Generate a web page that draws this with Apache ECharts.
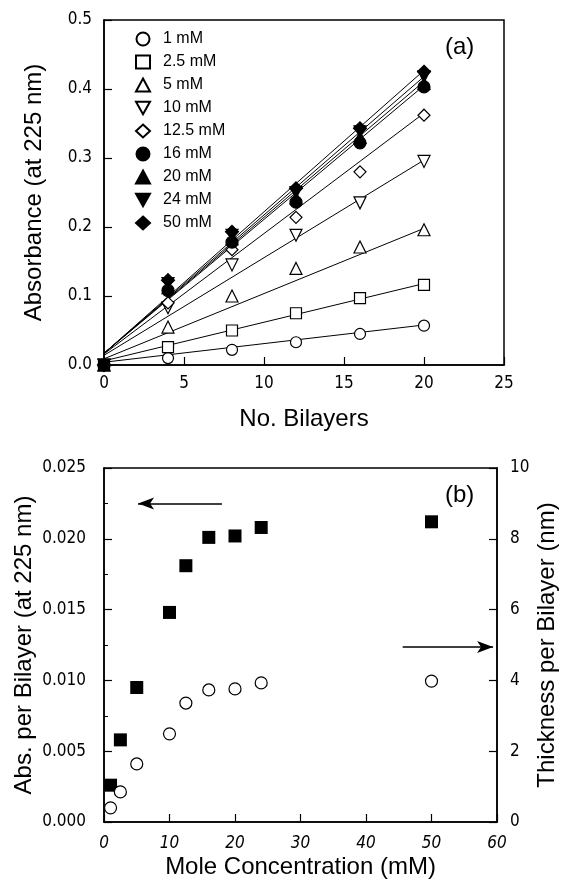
<!DOCTYPE html>
<html>
<head>
<meta charset="utf-8">
<script src="https://cdn.jsdelivr.net/npm/echarts@6/dist/echarts.min.js"></script>
<style>
html,body{margin:0;padding:0;background:#fff}
#main{width:564px;height:886px}
</style>
</head>
<body>
<div id="main"></div>
<script>
// panel (a): absorbance vs number of bilayers
var bilayers = [0, 4, 8, 12, 16, 20];
var concNames = ['1 mM', '2.5 mM', '5 mM', '10 mM', '12.5 mM', '16 mM', '20 mM', '24 mM', '50 mM'];
var abs1 = [0.000, 0.010, 0.022, 0.033, 0.045, 0.057];
var abs2_5 = [0.000, 0.026, 0.050, 0.075, 0.097, 0.116];
var abs5 = [0.000, 0.055, 0.100, 0.140, 0.171, 0.196];
var abs10 = [0.000, 0.083, 0.145, 0.188, 0.235, 0.295];
var abs12_5 = [0.000, 0.090, 0.167, 0.214, 0.280, 0.362];
var abs16 = [0.000, 0.108, 0.178, 0.236, 0.322, 0.403];
var abs20 = [0.000, 0.112, 0.183, 0.242, 0.330, 0.408];
var abs24 = [0.000, 0.118, 0.188, 0.250, 0.338, 0.418];
var abs50 = [0.000, 0.123, 0.193, 0.256, 0.343, 0.425];
// fitted lines: value at 0 and at 20 bilayers
var fitStart = [0.004, 0.006, 0.009, 0.014, 0.016, 0.017, 0.017, 0.017, 0.017];
var fitEnd = [0.058, 0.118, 0.198, 0.297, 0.365, 0.405, 0.411, 0.418, 0.427];

// panel (b): per-bilayer values vs concentration
var moleConc = [1, 2.5, 5, 10, 12.5, 16, 20, 24, 50];
var absPerBilayer = [0.0026, 0.0058, 0.0095, 0.0148, 0.0181, 0.0201, 0.0202, 0.0208, 0.0212];
var thickness = [0.40, 0.85, 1.64, 2.49, 3.36, 3.73, 3.76, 3.93, 3.98];

var allAbs = [abs1, abs2_5, abs5, abs10, abs12_5, abs16, abs20, abs24, abs50];
var downTri = 'path://M0,0 L10,0 L5,9 Z';
var symbols = ['circle', 'rect', 'triangle', downTri, 'diamond', 'circle', 'triangle', downTri, 'diamond'];
var filled = [false, false, false, false, false, true, true, true, true];
var sizes = [11, 11, 12, 12, 12, 12, 12, 12, 13];

var tickFont = {fontFamily: 'Liberation Sans Narrow, DejaVu Sans Condensed', fontSize: 17, color: '#000'};
var titleFont = {fontFamily: 'Liberation Sans', fontSize: 24, color: '#000'};
var axisLine = {show: true, lineStyle: {color: '#000', width: 1.5}};
var axisTick = {show: true, inside: true, length: 8, lineStyle: {color: '#000', width: 1.2}};

var series = [];
for (var i = 0; i < allAbs.length; i++) {
    series.push({
        type: 'line', xAxisIndex: 0, yAxisIndex: 0, silent: true,
        symbol: 'none', z: 2,
        lineStyle: {color: '#000', width: 1},
        data: [[0, fitStart[i]], [20, fitEnd[i]]]
    });
}
for (var i = 0; i < allAbs.length; i++) {
    var pts = [];
    for (var j = 0; j < bilayers.length; j++) pts.push([bilayers[j], allAbs[i][j]]);
    series.push({
        name: concNames[i], type: 'scatter', xAxisIndex: 0, yAxisIndex: 0, z: 3,
        symbol: symbols[i], symbolSize: sizes[i],
        itemStyle: {color: filled[i] ? '#000' : '#fff', borderColor: '#000', borderWidth: 1.2, opacity: 1},
        data: pts
    });
}
var sq = [], circ = [];
for (var k = 0; k < moleConc.length; k++) {
    sq.push([moleConc[k], absPerBilayer[k]]);
    circ.push([moleConc[k], thickness[k]]);
}
series.push({
    type: 'scatter', xAxisIndex: 1, yAxisIndex: 1, symbol: 'rect', symbolSize: 13,
    itemStyle: {color: '#000', opacity: 1}, data: sq,
    markLine: {
        silent: true, symbol: ['none', 'arrow'], symbolSize: [9, 16],
        label: {show: false},
        lineStyle: {color: '#000', width: 1.5, type: 'solid'},
        data: [[{coord: [18, 0.0225]}, {coord: [5.2, 0.0225]}]]
    }
});
series.push({
    type: 'scatter', xAxisIndex: 1, yAxisIndex: 2, symbol: 'circle', symbolSize: 12,
    itemStyle: {color: '#fff', borderColor: '#000', borderWidth: 1.2, opacity: 1}, data: circ,
    markLine: {
        silent: true, symbol: ['none', 'arrow'], symbolSize: [9, 16],
        label: {show: false},
        lineStyle: {color: '#000', width: 1.5, type: 'solid'},
        data: [[{coord: [45.6, 4.94]}, {coord: [59.4, 4.94]}]]
    }
});

var option = {
    backgroundColor: '#fff',
    animation: false,
    title: [
        {text: '(a)', left: 440, top: 30, textStyle: {fontFamily: 'Liberation Sans', fontSize: 24, fontWeight: 'normal', color: '#000'}},
        {text: '(b)', left: 440, top: 478, textStyle: {fontFamily: 'Liberation Sans', fontSize: 24, fontWeight: 'normal', color: '#000'}}
    ],
    legend: {
        orient: 'vertical', left: 130, top: 26, itemWidth: 14, itemHeight: 13, itemGap: 7,
        textStyle: {fontFamily: 'Liberation Sans', fontSize: 16, color: '#000', padding: [0, 0, 0, 8]},
        data: concNames
    },
    grid: [
        {left: 104, top: 20, width: 400, height: 345, show: true, borderColor: '#000', borderWidth: 1.5,
         backgroundColor: 'transparent', containLabel: false, outerBoundsMode: 'none'},
        {left: 104, top: 468, width: 393, height: 354, show: true, borderColor: '#000', borderWidth: 1.5,
         backgroundColor: 'transparent', containLabel: false, outerBoundsMode: 'none'}
    ],
    xAxis: [
        {gridIndex: 0, type: 'value', min: 0, max: 25, interval: 5,
         name: 'No. Bilayers', nameLocation: 'middle', nameGap: 42, nameMoveOverlap: false, nameTextStyle: titleFont,
         axisLine: axisLine, axisTick: axisTick, splitLine: {show: false},
         axisLabel: Object.assign({margin: 10}, tickFont)},
        {gridIndex: 1, type: 'value', min: 0, max: 60, interval: 10,
         name: 'Mole Concentration (mM)', nameLocation: 'middle', nameGap: 33, nameMoveOverlap: false, nameTextStyle: titleFont,
         axisLine: axisLine, axisTick: axisTick, splitLine: {show: false},
         axisLabel: Object.assign({margin: 13, fontStyle: 'italic'}, tickFont)}
    ],
    yAxis: [
        {gridIndex: 0, type: 'value', min: 0, max: 0.5, interval: 0.1,
         name: 'Absorbance (at 225 nm)', nameLocation: 'middle', nameGap: 58, nameMoveOverlap: false, nameTextStyle: titleFont,
         axisLine: axisLine, axisTick: axisTick, splitLine: {show: false},
         axisLabel: Object.assign({margin: 12, formatter: function (v) { return v.toFixed(1); }}, tickFont)},
        {gridIndex: 1, type: 'value', min: 0, max: 0.025, interval: 0.005,
         name: 'Abs. per Bilayer (at 225 nm)', nameLocation: 'middle', nameGap: 68, nameMoveOverlap: false, nameTextStyle: titleFont,
         axisLine: axisLine, axisTick: axisTick, splitLine: {show: false},
         minorTick: {show: true, splitNumber: 2, length: 4, lineStyle: {color: '#000'}},
         axisLabel: Object.assign({margin: 18, formatter: function (v) { return v.toFixed(3); }}, tickFont)},
        {gridIndex: 1, type: 'value', position: 'right', min: 0, max: 10, interval: 2,
         name: 'Thickness per Bilayer (nm)', nameLocation: 'middle', nameGap: 38, nameMoveOverlap: false, nameTextStyle: titleFont,
         axisLine: axisLine, axisTick: axisTick, splitLine: {show: false},
         axisLabel: Object.assign({margin: 13}, tickFont)}
    ],
    series: series
};

var myChart = echarts.init(document.getElementById('main'));
myChart.setOption(option);
</script>
</body>
</html>
